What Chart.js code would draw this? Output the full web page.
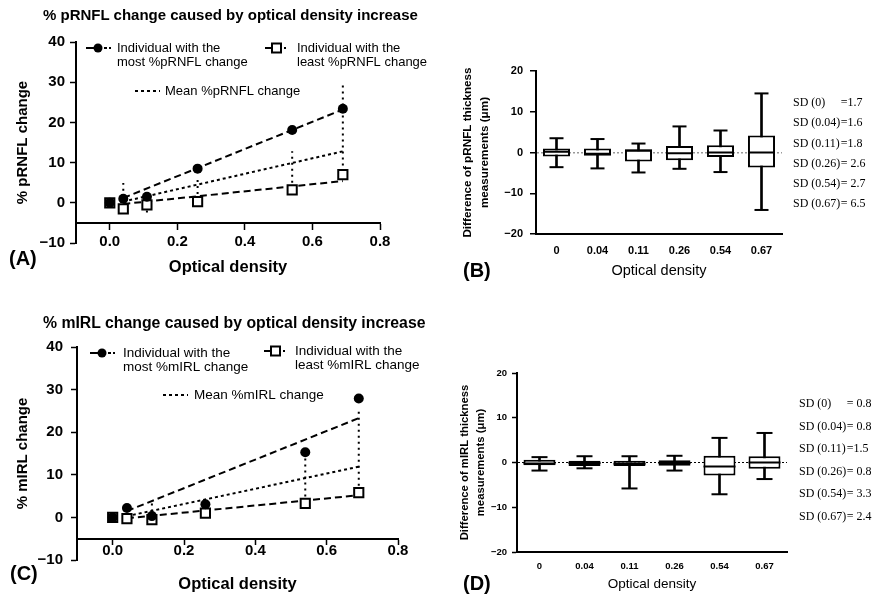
<!DOCTYPE html>
<html>
<head>
<meta charset="utf-8">
<script src="https://cdn.jsdelivr.net/npm/chart.js@4.4.0/dist/chart.umd.min.js"></script>
<style>
  html, body { margin: 0; padding: 0; background: #fff; }
  body { width: 877px; height: 596px; position: relative; overflow: hidden;
         font-family: "Liberation Sans", Arial, sans-serif; color: #000; }
  canvas { position: absolute; }
  .title { position: absolute; font-weight: bold; white-space: nowrap; }
  .tag { position: absolute; font-weight: bold; font-size: 20px; line-height: 20px; }
  .sd { position: absolute; font-family: "Liberation Serif", "Times New Roman", serif;
        font-size: 13px; white-space: nowrap; transform: scaleX(0.92); transform-origin: left top; }
  .sd span { display: inline-block; }
</style>
</head>
<body>
<canvas id="chartA" width="440" height="300" style="left:0;top:0"></canvas>
<canvas id="chartB" width="437" height="300" style="left:440px;top:0"></canvas>
<canvas id="chartC" width="440" height="296" style="left:0;top:300px"></canvas>
<canvas id="chartD" width="437" height="296" style="left:440px;top:300px"></canvas>

<div class="title" style="left:43px;top:6px;font-size:15px;line-height:18px">% pRNFL change caused by optical density increase</div>
<div class="title" style="left:43px;top:313px;font-size:15.8px;line-height:19px">% mIRL change caused by optical density increase</div>
<div class="tag" style="left:9px;top:248px">(A)</div>
<div class="tag" style="left:463px;top:260px">(B)</div>
<div class="tag" style="left:10px;top:563px">(C)</div>
<div class="tag" style="left:463px;top:573px">(D)</div>
<div class="sd" id="sdB" style="left:793px;top:92px"></div>
<div class="sd" id="sdD" style="left:799px;top:392px"></div>

<script>
// optical density steps
const odA = [0, 0.04, 0.11, 0.26, 0.54, 0.69];
const fitX = [0.04, 0.69];
const xTicks = [0, 0.2, 0.4, 0.6, 0.8];
const odCats = ['0', '0.04', '0.11', '0.26', '0.54', '0.67'];

// (A) % pRNFL change
const mostA = [0, 1.0, 1.5, 8.5, 18.1, 23.4];
const leastA = [0, -1.5, -0.5, 0.3, 3.2, 7.0];
const fitMostA = [1.2, 23.2];
const fitLeastA = [-0.3, 5.4];
const fitMeanA = [0.3, 12.8];
const barXA = [0.04, 0.11, 0.26, 0.54, 0.69];
const barLoA = [0, -2.4, -0.8, 3.5, 9.3];
const barHiA = [4.9, 1.8, 6.2, 12.8, 30.0];

// (C) % mIRL change
const mostC = [0, 2.2, 0.3, 3.1, 15.3, 27.9];
const leastC = [0, -0.3, -0.5, 1.0, 3.3, 5.8];
const fitMostC = [1.5, 23.3];
const fitLeastC = [-0.2, 5.2];
const fitMeanC = [0.3, 11.9];
const barXC = [0.11, 0.54, 0.69];
const barLoC = [0, 3.5, 6.0];
const barHiC = [3.7, 15.0, 25.2];

// (B) difference of pRNFL thickness
const minB = [-3.6, -3.9, -4.9, -4.0, -4.8, -14.1];
const q1B = [-1.0, -0.8, -2.2, -1.9, -1.1, -3.7];
const medB = [0.2, -0.3, 0.4, -0.2, 0, 0];
const q3B = [1.0, 1.0, 0.8, 1.6, 1.8, 4.2];
const maxB = [3.5, 3.3, 2.2, 6.4, 5.4, 14.5];
const sdB = ['=1.7', '=1.6', '=1.8', '= 2.6', '= 2.7', '= 6.5'];

// (D) difference of mIRL thickness
const minD = [-1.8, -1.3, -5.8, -1.8, -7.1, -3.7];
const q1D = [-0.6, -0.8, -0.8, -0.7, -2.9, -1.4];
const medD = [-0.2, -0.1, -0.3, -0.1, -0.9, 0];
const q3D = [0.6, 0.4, 0.4, 0.5, 1.5, 1.4];
const maxD = [1.2, 1.4, 1.4, 1.5, 5.5, 6.6];
const sdD = ['= 0.8', '= 0.8', '=1.5', '= 0.8', '= 3.3', '= 2.4'];

Chart.defaults.font.family = '"Liberation Sans", Arial, sans-serif';
Chart.defaults.color = '#000';
Chart.defaults.animation = false;
Chart.defaults.plugins.legend.display = false;
Chart.defaults.plugins.tooltip.enabled = false;

const minus = v => (v < 0 ? '\u2212' + Math.abs(v) : String(v));
const pts = (xs, ys) => xs.map((x, i) => ({ x, y: ys[i] }));
const segs = (xs, lo, hi) => xs.flatMap((x, i) => [{ x, y: lo[i] }, { x, y: hi[i] }, { x, y: null }]);

// legend drawn inside the plot area, like the original
const inLegend = {
  id: 'inLegend',
  afterDraw(chart, args, o) {
    if (!o.items) return;
    const { ctx, chartArea: a } = chart;
    ctx.save();
    ctx.font = o.font;
    ctx.fillStyle = '#000';
    ctx.strokeStyle = '#000';
    ctx.textBaseline = 'middle';
    o.items.forEach(it => {
      const x = a.left + it.dx, y = a.top + it.dy;
      ctx.lineWidth = 2;
      if (it.symbol === 'mean') {
        ctx.setLineDash([3, 3]);
        ctx.beginPath(); ctx.moveTo(x, y); ctx.lineTo(x + 25, y); ctx.stroke();
        ctx.setLineDash([]);
      } else if (it.symbol === 'circle') {
        ctx.beginPath(); ctx.moveTo(x, y); ctx.lineTo(x + 11, y); ctx.stroke();
        ctx.beginPath(); ctx.arc(x + 12, y, 4.5, 0, Math.PI * 2); ctx.fill();
        ctx.fillRect(x + 18, y - 1, 3, 2);
        ctx.fillRect(x + 23, y - 1, 2, 2);
      } else {
        ctx.beginPath(); ctx.moveTo(x, y); ctx.lineTo(x + 7, y); ctx.stroke();
        ctx.fillStyle = '#fff';
        ctx.fillRect(x + 7, y - 4.5, 9, 9);
        ctx.strokeRect(x + 7, y - 4.5, 9, 9);
        ctx.fillStyle = '#000';
        ctx.fillRect(x + 19, y - 1, 2, 2);
      }
      it.lines.forEach((t, k) => ctx.fillText(t, a.left + it.tx, y + k * o.gap));
    });
    ctx.restore();
  }
};

function changePanel(id, c) {
  const line = (data, dash, order) => ({
    data, showLine: true, borderColor: '#000', borderWidth: 2, borderDash: dash,
    pointRadius: 0, order
  });
  new Chart(document.getElementById(id), {
    type: 'scatter',
    data: {
      datasets: [
        line(segs(c.barX, c.barLo, c.barHi), [2, 4], 5),
        line(pts(fitX, c.fitMean), [3, 3], 4),
        line(pts(fitX, c.fitLeast), [7, 4], 3),
        line(pts(fitX, c.fitMost), [7, 4], 2),
        { data: pts(odA, c.least), pointStyle: 'rect', pointRadius: 6.5,
          pointBackgroundColor: '#fff', pointBorderColor: '#000', pointBorderWidth: 2, order: 1 },
        { data: pts(odA, c.most), pointStyle: 'circle', pointRadius: 5,
          pointBackgroundColor: '#000', pointBorderColor: '#000', pointBorderWidth: 0, order: 0 }
      ]
    },
    options: {
      responsive: false,
      layout: { padding: { left: 0, top: c.top, right: c.right, bottom: c.bottom } },
      scales: {
        x: {
          type: 'linear', min: -0.1, max: 0.8, position: { y: -5 },
          afterBuildTicks: s => { s.ticks = xTicks.map(v => ({ value: v })); },
          afterFit: s => { s.height = c.xH; },
          grid: { drawOnChartArea: false, tickLength: c.xTick, tickColor: '#000', tickWidth: 1.5 },
          border: { color: '#000', width: 2 },
          ticks: { font: { size: 15, weight: 'bold' }, padding: c.xPad, callback: v => v.toFixed(1) },
          title: { display: true, text: 'Optical density', font: { size: 16.5, weight: 'bold' }, padding: 0 }
        },
        y: {
          min: -10, max: 40,
          afterFit: s => { s.width = c.yW; },
          grid: { drawOnChartArea: false, tickLength: 6, tickColor: '#000', tickWidth: 1.5 },
          border: { color: '#000', width: 2 },
          ticks: { stepSize: 10, font: { size: 15, weight: 'bold' }, padding: c.yPad, callback: minus },
          title: { display: true, text: c.yTitle, font: { size: 15, weight: 'bold' }, padding: { top: 14, bottom: 0 } }
        }
      },
      plugins: { inLegend: c.legend }
    },
    plugins: [inLegend]
  });
}

function boxPanel(id, c) {
  const mark = (data, r) => ({
    type: 'line', data, showLine: false, pointStyle: 'line', pointRadius: r,
    pointBorderWidth: 2, pointBorderColor: '#000', order: 1
  });
  new Chart(document.getElementById(id), {
    type: 'bar',
    data: {
      labels: odCats,
      datasets: [
        { data: c.min.map((v, i) => [v, c.max[i]]), backgroundColor: '#000',
          barThickness: 2, grouped: false, order: 3 },
        { data: c.q1.map((v, i) => [v, c.q3[i]]), backgroundColor: '#fff', borderColor: '#000',
          borderWidth: 2, borderSkipped: false, barPercentage: c.boxPct, categoryPercentage: 1,
          grouped: false, order: 2 },
        mark(c.med, c.half),
        mark(c.max, c.cap),
        mark(c.min, c.cap)
      ]
    },
    options: {
      responsive: false,
      layout: { padding: { left: 0, top: c.top, right: c.right, bottom: c.bottom } },
      scales: {
        x: {
          afterFit: s => { s.height = c.xH; },
          grid: { drawOnChartArea: false, drawTicks: false },
          border: { color: '#000', width: 2 },
          ticks: { font: { size: c.tickSize, weight: 'bold' }, padding: c.xPad },
          title: { display: true, text: 'Optical density', font: { size: c.xTitleSize }, padding: 0 }
        },
        y: {
          min: -20, max: 20,
          afterFit: s => { s.width = c.yW; },
          grid: {
            color: ctx => (ctx.tick && ctx.tick.value === 0 ? c.zeroColor : 'rgba(0,0,0,0)'),
            lineWidth: c.zeroW, tickColor: '#000', tickWidth: 1.5, tickLength: c.yTick
          },
          border: { color: '#000', width: 2, dash: [2, 2] },
          ticks: { stepSize: 10, font: { size: c.tickSize, weight: 'bold' }, padding: c.yPad, callback: minus },
          title: { display: true, text: c.yTitle, font: { size: c.yTitleSize, weight: 'bold', lineHeight: 1.43 },
                   padding: { top: c.yTitlePad, bottom: 0 } }
        }
      }
    }
  });
}

changePanel('chartA', {
  most: mostA, least: leastA, fitMost: fitMostA, fitLeast: fitLeastA, fitMean: fitMeanA,
  barX: barXA, barLo: barLoA, barHi: barHiA,
  top: 42, right: 60, bottom: 57, yW: 76, xH: 54, xTick: 6, xPad: 4, yPad: 5,
  yTitle: '% pRNFL change',
  legend: {
    font: '13px "Liberation Sans", Arial, sans-serif', gap: 14,
    items: [
      { symbol: 'circle', dx: 10, dy: 6, tx: 41, lines: ['Individual with the', 'most %pRNFL change'] },
      { symbol: 'square', dx: 189, dy: 6, tx: 221, lines: ['Individual with the', 'least %pRNFL change'] },
      { symbol: 'mean', dx: 59, dy: 49, tx: 89, lines: ['Mean %pRNFL change'] }
    ]
  }
});

changePanel('chartC', {
  most: mostC, least: leastC, fitMost: fitMostC, fitLeast: fitLeastC, fitMean: fitMeanC,
  barX: barXC, barLo: barLoC, barHi: barHiC,
  top: 47, right: 42, bottom: 36, yW: 77, xH: 56, xTick: 5, xPad: -2, yPad: 8,
  yTitle: '% mIRL change',
  legend: {
    font: '13.5px "Liberation Sans", Arial, sans-serif', gap: 14,
    items: [
      { symbol: 'circle', dx: 13, dy: 6, tx: 46, lines: ['Individual with the', 'most %mIRL change'] },
      { symbol: 'square', dx: 187, dy: 4, tx: 218, lines: ['Individual with the', 'least %mIRL change'] },
      { symbol: 'mean', dx: 86, dy: 48, tx: 117, lines: ['Mean %mIRL change'] }
    ]
  }
});

boxPanel('chartB', {
  min: minB, q1: q1B, med: medB, q3: q3B, max: maxB,
  boxPct: 0.66, half: 13.5, cap: 7,
  top: 71, right: 95, bottom: 20, yW: 96, xH: 46, xPad: 10, yPad: 7, yTick: 6,
  tickSize: 11, xTitleSize: 14.5, yTitleSize: 11.7, yTitlePad: 19.6,
  zeroColor: '#999', zeroW: 1.5,
  yTitle: ['Difference of pRNFL thickness', 'measurements (\u03bcm)']
});

boxPanel('chartD', {
  min: minD, q1: q1D, med: medD, q3: q3D, max: maxD,
  boxPct: 0.71, half: 16, cap: 8,
  top: 73, right: 90, bottom: 4, yW: 77, xH: 40, xPad: 9, yPad: 5, yTick: 5,
  tickSize: 9.5, xTitleSize: 13.5, yTitleSize: 11.3, yTitlePad: 16.6,
  zeroColor: '#000', zeroW: 1,
  yTitle: ['Difference of mIRL thickness', 'measurements (\u03bcm)']
});

function sdList(id, vals, rowH, labelW) {
  const box = document.getElementById(id);
  vals.forEach((v, i) => {
    const row = document.createElement('div');
    row.style.height = rowH + 'px';
    row.style.lineHeight = rowH + 'px';
    const lab = document.createElement('span');
    lab.style.width = labelW + 'px';
    lab.textContent = 'SD (' + odCats[i] + ')';
    row.appendChild(lab);
    row.appendChild(document.createTextNode(v));
    box.appendChild(row);
  });
}
sdList('sdB', sdB, 20.3, 52);
sdList('sdD', sdD, 22.6, 52);
</script>
</body>
</html>
